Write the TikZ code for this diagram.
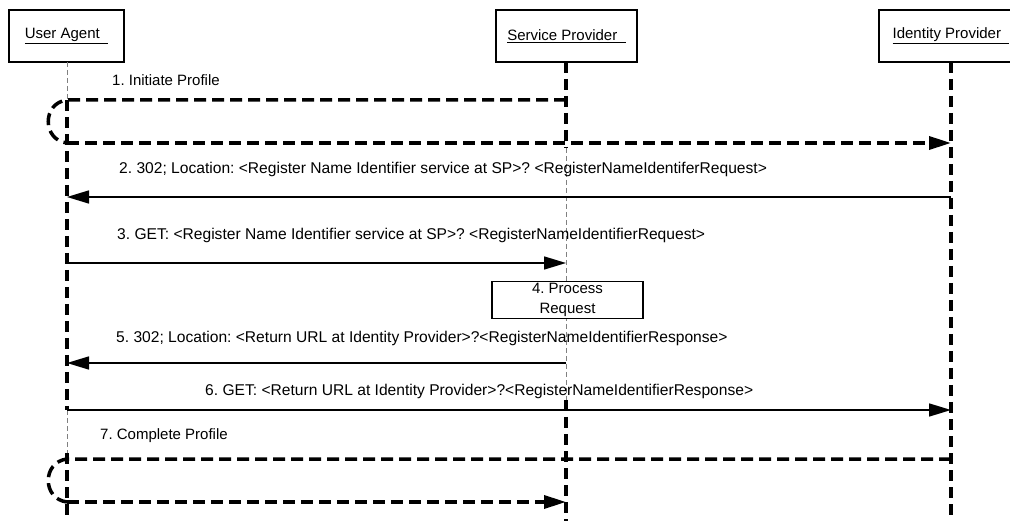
\documentclass[tikz,border=0pt]{standalone}
\usepackage{fontspec}
\setmainfont{Liberation Sans}
\usetikzlibrary{arrows.meta}
\frenchspacing

\tikzset{
  actor/.style={draw, line width=1.8pt, minimum height=52pt, inner sep=0pt,
    font=\fontsize{15}{18}\selectfont},
  lifeline/.style={line width=3.2pt, dash pattern=on 11pt off 6pt},
  lifethin/.style={line width=0.7pt, dash pattern=on 5pt off 3pt, black!50},
  msg/.style={line width=1.6pt, -{Triangle[length=22pt,width=13pt]}},
  flow/.style={line width=3.5pt, dash pattern=on 12pt off 6pt},
  flowarrow/.style={flow, -{Triangle[length=22pt,width=13pt]}},
  lbl/.style={font=\fontsize{15}{18}\selectfont, anchor=mid west, inner sep=0pt},
  longlbl/.style={lbl, font=\fontsize{15.6}{18}\selectfont},
  procbox/.style={draw, line width=1.8pt, fill=white, minimum width=151pt,
    minimum height=37pt, inner sep=0pt, align=center,
    font=\fontsize{15}{20}\selectfont},
}

\begin{document}
\begin{tikzpicture}[x=1pt,y=-1pt]
\useasboundingbox (0,0) rectangle (1010,521);

% participants
\node[actor, minimum width=115pt] (ua)  at (66.5,36) {\underline{User Agent\ \ }};
\node[actor, minimum width=141pt] (sp)  at (566.5,36) {\underline{Service Provider\ \ }};
\node[actor, minimum width=144pt] (idp) at (951,36) {\underline{Identity Provider\ \ }};

% lifeline anchor points
\coordinate (uaA) at (67,100);
\coordinate (uaB) at (67,410);
\coordinate (uaC) at (67,453);
\coordinate (uaEnd) at (67,521);
\coordinate (spA) at (566,148);
\coordinate (spB) at (566,400);
\coordinate (spEnd) at (566,521);
\coordinate (idpEnd) at (951,521);

% lifelines
\draw[lifethin] (67,62) -- (uaA);
\draw[lifeline] (uaA) -- (uaB);
\draw[lifethin] (uaB) -- (uaC);
\draw[lifeline] (uaC) -- (uaEnd);
\draw[lifeline] (566,62) -- (spA);
\draw[lifethin] (spA) -- (spB);
\draw[lifeline] (spB) -- (spEnd);
\draw[lifeline] (951,62) -- (idpEnd);

% message end points
\coordinate (m1a) at (566,100);
\coordinate (m1b) at (67,100);
\coordinate (m1c) at (67,143);
\coordinate (m1d) at (951,143);
\coordinate (m2a) at (951,197);
\coordinate (m2b) at (67,197);
\coordinate (m3a) at (67,263);
\coordinate (m3b) at (566,263);
\coordinate (m5a) at (566,363);
\coordinate (m5b) at (67,363);
\coordinate (m6a) at (67,410);
\coordinate (m6b) at (951,410);
\coordinate (m7a) at (951,459);
\coordinate (m7b) at (67,459);
\coordinate (m7c) at (67,502);
\coordinate (m7d) at (566,502);

% 1. initiate profile
\node[lbl] (l1) at (112,83) {1. Initiate Profile};
\draw[flow] (m1a) -- (m1b) .. controls (42,103) and (42,140) .. (m1c);
\draw[flowarrow] (m1c) -- (m1d);

% 2. redirect to service provider
\node[longlbl] (l2) at (119,171) {2. 302; Location: <Register Name Identifier service at SP>? <RegisterNameIdentiferRequest>};
\draw[msg] (m2a) -- (m2b);

% 3. get request
\node[longlbl] (l3) at (117,237) {3. GET: <Register Name Identifier service at SP>? <RegisterNameIdentifierRequest>};
\draw[msg] (m3a) -- (m3b);

% 4. processing
\node[procbox] (proc) at (567.5,300) {4. Process\\Request};

% 5. redirect back
\node[longlbl] (l5) at (116,340) {5. 302; Location: <Return URL at Identity Provider>?<RegisterNameIdentifierResponse>};
\draw[msg] (m5a) -- (m5b);

% 6. get response
\node[longlbl] (l6) at (205,393) {6. GET: <Return URL at Identity Provider>?<RegisterNameIdentifierResponse>};
\draw[msg] (m6a) -- (m6b);

% 7. complete profile
\node[lbl] (l7) at (100,437) {7. Complete Profile};
\draw[flow] (m7a) -- (m7b) .. controls (42,462) and (42,499) .. (m7c);
\draw[flowarrow] (m7c) -- (m7d);

\end{tikzpicture}
\end{document}
